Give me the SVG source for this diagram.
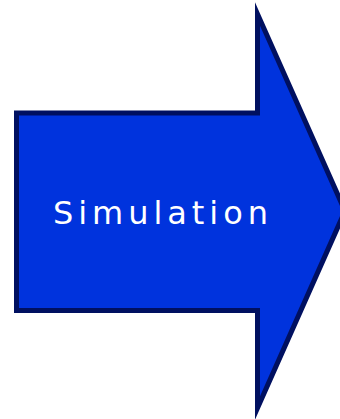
<svg xmlns="http://www.w3.org/2000/svg" width="340" height="419" viewBox="0 0 340 419">
<style>
.arrow{fill:#0033DD;stroke:#001060;stroke-width:5;stroke-linejoin:miter;stroke-miterlimit:10}
.lbl{font-family:"DejaVu Sans","Open Sans",sans-serif;font-size:32px;fill:#ffffff}
</style>
<g id="simulation">
<path class="arrow" d="M16.5,113 L257.5,113 L257.5,14 L345,211 L257.5,408 L257.5,310.5 L16.5,310.5 Z"/>
<text class="lbl" x="53" y="224" textLength="215" lengthAdjust="spacing">Simulation</text>
</g>
<g id="connectors"/>
</svg>
